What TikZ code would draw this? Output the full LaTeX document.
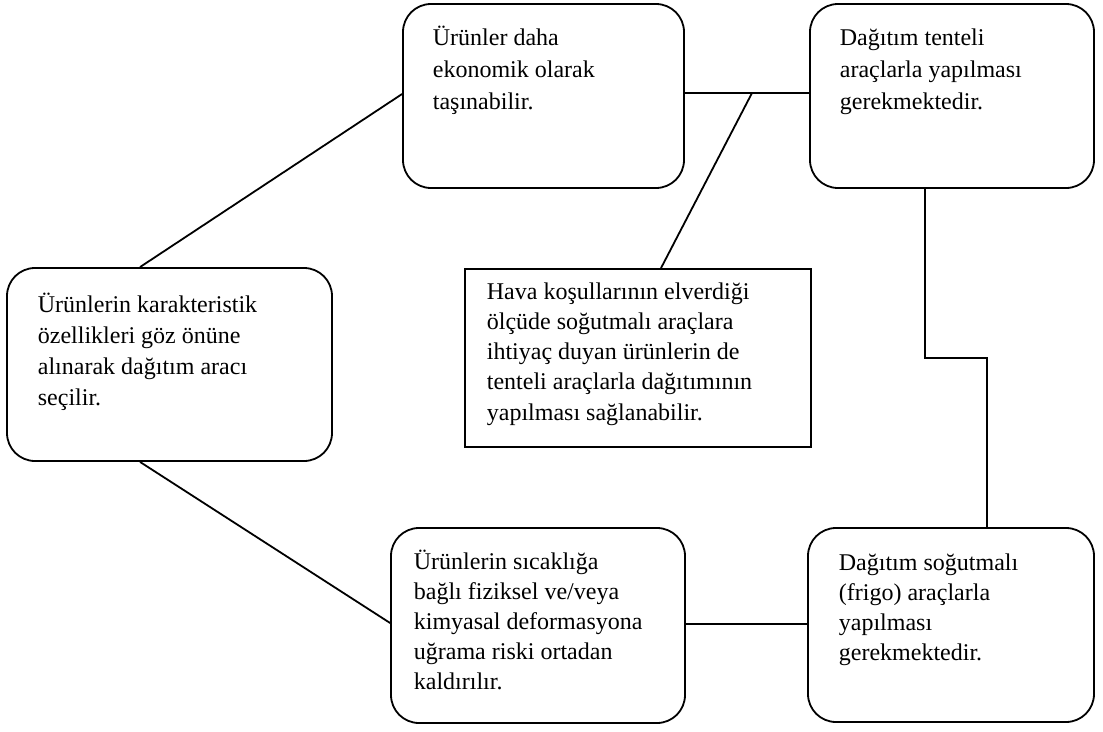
\documentclass[tikz,border=0pt]{standalone}
\usepackage{fontspec}
\setmainfont{Liberation Serif}
\begin{document}
\begin{tikzpicture}[x=1pt,y=-1pt,
  line width=1.8pt,
  rbox/.style={draw, rounded corners=28pt, inner sep=0pt},
  sbox/.style={draw, inner sep=0pt},
  % texts are placed by the baseline of their last line
  txt/.style={anchor=base west, inner sep=0pt, align=left,
    font=\fontsize{24}{#1}\selectfont},
  txt/.default=31,
  link/.style={draw, line width=1.8pt}]
\useasboundingbox (0,0) rectangle (1103,731);

% boxes
\node[rbox, minimum width=281pt, minimum height=184pt] (b1) at (543.5,96) {};
\node[rbox, minimum width=284pt, minimum height=184pt] (b2) at (952,96) {};
\node[rbox, minimum width=325pt, minimum height=193pt] (b3) at (169.5,364.5) {};
\node[sbox, minimum width=346pt, minimum height=178pt] (b4) at (638,358) {};
\node[rbox, minimum width=294pt, minimum height=195pt] (b5) at (538,625.5) {};
\node[rbox, minimum width=286pt, minimum height=194pt] (b6) at (951,625) {};

% texts
\node[txt=32] (t1) at (432,109) {Ürünler daha\\ekonomik olarak\\taşınabilir.};
\node[txt=32] (t2) at (839,109) {Dağıtım tenteli\\araçlarla yapılması\\gerekmektedir.};
\node[txt=31] (t3) at (37,405) {Ürünlerin karakteristik\\özellikleri göz önüne\\alınarak dağıtım aracı\\seçilir.};
\node[txt=30.25] (t4) at (486,420) {Hava koşullarının elverdiği\\ölçüde soğutmalı araçlara\\ihtiyaç duyan ürünlerin de\\tenteli araçlarla dağıtımının\\yapılması sağlanabilir.};
\node[txt=30] (t5) at (413,689) {Ürünlerin sıcaklığa\\bağlı fiziksel ve/veya\\kimyasal deformasyona\\uğrama riski ortadan\\kaldırılır.};
\node[txt=30] (t6) at (838,660) {Dağıtım soğutmalı\\(frigo) araçlarla\\yapılması\\gerekmektedir.};

% connectors
\coordinate (j) at (752,93);
\coordinate (k) at (987,358);
\draw[link] (b3.north -| 140,0) -- (b1.west |- 0,94);
\draw[link] (b3.south -| 140,0) -- (b5.west |- 0,623);
\draw[link] (b1.east |- 0,93) -- (b2.west |- 0,93);
\draw[link] (j) -- (b4.north -| 661,0);
\draw[link] (b2.south -| 925,0) |- (k) -- (b6.north -| k);
\draw[link] (b5.east |- 0,624) -- (b6.west |- 0,624);
\end{tikzpicture}
\end{document}
